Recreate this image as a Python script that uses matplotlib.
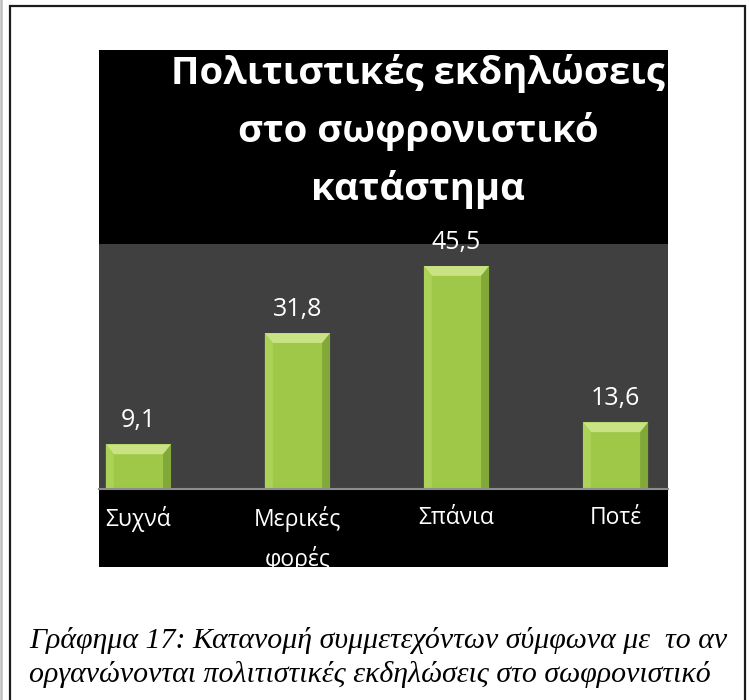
import matplotlib
matplotlib.use("Agg")
import matplotlib.pyplot as plt
from matplotlib.patches import Rectangle, Polygon
from matplotlib.lines import Line2D
from matplotlib import transforms

# Survey answers (percent of participants)
categories = ["Συχνά", "Μερικές\nφορές", "Σπάνια", "Ποτέ"]
values = [9.1, 31.8, 45.5, 13.6]
value_labels = ["9,1", "31,8", "45,5", "13,6"]

title_lines = ["Πολιτιστικές εκδηλώσεις", "στο σωφρονιστικό", "κατάστημα"]
caption_lines = [
    "Γράφημα 17: Κατανομή συμμετεχόντων σύμφωνα με  το αν",
    "οργανώνονται πολιτιστικές εκδηλώσεις στο σωφρονιστικό",
]

W, H = 749, 700
plt.rcParams["font.family"] = ["Open Sans", "DejaVu Sans"]

fig = plt.figure(figsize=(W / 100, H / 100), dpi=100)
fig.patch.set_facecolor("white")


def fx(px):
    return px / W


def fy(py):
    return 1 - py / H


# page frame around the figure + caption
fig.add_artist(Rectangle((fx(10), -0.1), fx(745) - fx(10), fy(6) + 0.1,
                         transform=fig.transFigure, fill=False,
                         edgecolor="#1c1c1c", linewidth=1.6))
fig.add_artist(Line2D([fx(1), fx(1)], [0, 1], transform=fig.transFigure,
                      color="#bdbdbd", linewidth=1.8))

# black chart block
bg = fig.add_axes([fx(99), fy(567), fx(668) - fx(99), fy(50) - fy(567)])
bg.set_facecolor("black")
bg.set_xticks([])
bg.set_yticks([])
for s in bg.spines.values():
    s.set_visible(False)

# plot area
ax = fig.add_axes([fx(99), fy(489), fx(668) - fx(99), fy(244) - fy(489)])
ax.set_facecolor("#404040")
xpos = list(range(len(values)))
bars = ax.bar(xpos, values, width=0.41, color="#9fc849", zorder=2)
ax.set_xlim(-0.248, 3.33)
ax.set_ylim(0, 50)
ax.set_yticks([])
ax.set_xticks([])
for side in ["top", "left", "right"]:
    ax.spines[side].set_visible(False)
ax.spines["bottom"].set_color("#8c8c8c")
ax.spines["bottom"].set_linewidth(1.5)
ax.spines["bottom"].set_zorder(4)

# bevel on each bar
bx, by = 0.05, 2.0
for rect in bars:
    x0, w, h = rect.get_x(), rect.get_width(), rect.get_height()
    top = Polygon([(x0, h), (x0 + w, h), (x0 + w - bx, h - by), (x0 + bx, h - by)],
                  closed=True, facecolor="#c9e384", edgecolor="none", zorder=3)
    left = Polygon([(x0, 0), (x0, h), (x0 + bx, h - by), (x0 + bx, 0)],
                   closed=True, facecolor="#acd257", edgecolor="none", zorder=3)
    right = Polygon([(x0 + w, 0), (x0 + w, h), (x0 + w - bx, h - by), (x0 + w - bx, 0)],
                    closed=True, facecolor="#82a839", edgecolor="none", zorder=3)
    for p in (top, left, right):
        ax.add_patch(p)

# value labels
for rect, lbl in zip(bars, value_labels):
    ax.annotate(lbl, (rect.get_x() + rect.get_width() / 2, rect.get_height()),
                xytext=(0, 12.5), textcoords="offset points", ha="center",
                va="baseline", color="white", fontsize=18, annotation_clip=False)

# category labels, clipped at the bottom of the black block
lbl_trans = transforms.offset_copy(ax.get_xaxis_transform(), fig=fig,
                                   x=0, y=-12, units="points")
for xi, cat in zip(xpos, categories):
    t = ax.text(xi, 0, cat, transform=lbl_trans, ha="center", va="top",
                color="white", fontsize=16.5, linespacing=1.7)
    t.set_clip_path(bg.patch)
    t.set_clip_on(True)

# title
for line, base in zip(title_lines, [84, 142, 200]):
    fig.text(fx(418), fy(base), line, ha="center", va="baseline",
             fontsize=27.5, fontweight="bold", color="white")

# caption under the chart
for line, base in zip(caption_lines, [648, 682]):
    fig.text(fx(29), fy(base), line, ha="left", va="baseline",
             family="Liberation Serif", style="italic", fontsize=21.5,
             color="black")

fig.savefig("out.png", dpi=100)
